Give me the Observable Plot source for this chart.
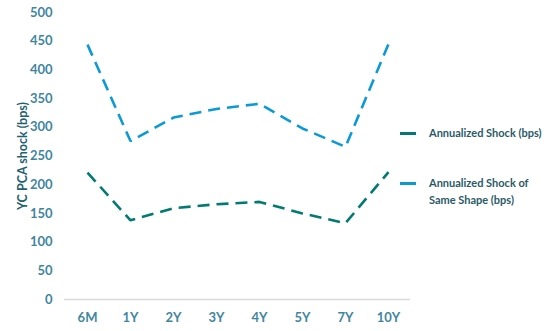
<!DOCTYPE html>
<html><head><meta charset="utf-8">
<script src="https://cdn.jsdelivr.net/npm/d3@7"></script>
<script src="https://cdn.jsdelivr.net/npm/@observablehq/plot@0.6"></script>
<style>
body{margin:0;background:#fff;font-family:Lato,"Open Sans",sans-serif;}
#wrap{position:relative;width:550px;height:331px;}
.leg{position:absolute;font-weight:bold;font-size:11px;color:#2a5a69;line-height:17px;}
.sw{position:absolute;height:3px;width:16px;}
</style></head><body>
<div id="wrap"></div>
<script>
const tenors = ["6M","1Y","2Y","3Y","4Y","5Y","7Y","10Y"];
const annualized = [221,138,159,166,170,150,133,222];
const sameShape = [444,276,317,332,341,298,266,445];
const seriesNames = ["Annualized Shock (bps)","Annualized Shock of Same Shape (bps)"];
const colors = ["#007a72","#0a9ad6"];
const yTicks = [0,50,100,150,200,250,300,350,400,450,500];

const data = [];
tenors.forEach((t,i)=>{
  data.push({tenor:t, value:annualized[i], series:seriesNames[0]});
  data.push({tenor:t, value:sameShape[i], series:seriesNames[1]});
});

const chart = Plot.plot({
  width:550, height:331,
  marginLeft:64, marginRight:140, marginTop:12, marginBottom:32,
  style:{fontFamily:"Lato, 'Open Sans', sans-serif", fontWeight:"bold", fontSize:"13px", color:"#3f86a0"},
  x:{type:"point", domain:tenors, padding:0.5, label:null, tickSize:0, tickPadding:12},
  y:{domain:[0,500], ticks:yTicks, label:"YC PCA shock (bps)", tickSize:0, tickPadding:12},
  color:{domain:seriesNames, range:colors},
  marks:[
    Plot.ruleY([0],{stroke:"#d9d9d9", strokeWidth:1.5}),
    Plot.axisX({tickSize:0, tickPadding:13, fill:"#3f86a0", fontSize:13}),
    Plot.axisY({ticks:yTicks, tickSize:0, tickPadding:12, fill:"#3f86a0", fontSize:13,
      label:"YC PCA shock (bps)", labelAnchor:"center", labelArrow:"none", labelOffset:46}),
    Plot.line(data,{x:"tenor", y:"value", z:"series", stroke:"series", strokeWidth:2.6,
      strokeDasharray:"12,7", strokeLinejoin:"miter", strokeLinecap:"butt"})
  ]
});
const wrap = document.getElementById("wrap");
wrap.appendChild(chart);
d3.select(chart).selectAll("[aria-label='y-axis label'] text, [aria-label='y-axis label']").attr("fill","#1f6272").style("font-size","12.5px");

const leg = [
  {name:"Annualized Shock (bps)", color:colors[0], top:124, swTop:132},
  {name:"Annualized Shock of<br>Same Shape (bps)", color:colors[1], top:174, swTop:182}
];
leg.forEach(l=>{
  const s=document.createElement("div"); s.className="sw"; s.style.background=l.color;
  s.style.left="400px"; s.style.top=l.swTop+"px"; wrap.appendChild(s);
  const t=document.createElement("div"); t.className="leg"; t.innerHTML=l.name;
  t.style.left="429px"; t.style.top=l.top+"px"; wrap.appendChild(t);
});
</script>
</body></html>
